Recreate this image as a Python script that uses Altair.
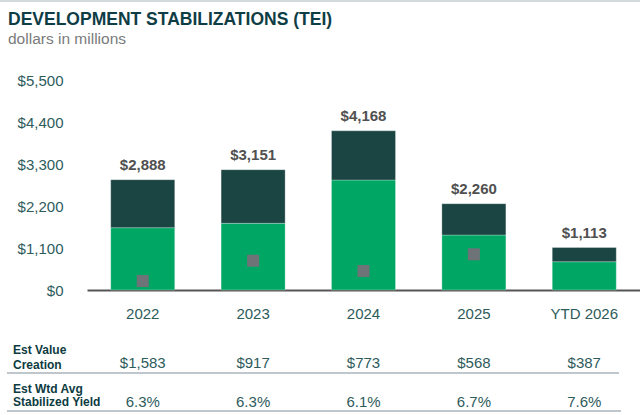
import altair as alt
import pandas as pd

# Development stabilizations, dollars in millions
periods = ["2022", "2023", "2024", "2025", "YTD 2026"]
totals = [2888, 3151, 4168, 2260, 1113]
lower_part = [1632, 1747, 2881, 1440, 741]
marker_periods = ["2022", "2023", "2024", "2025"]
marker_values = [236, 767, 498, 935]
value_creation = [1583, 917, 773, 568, 387]
stabilized_yield = [0.063, 0.063, 0.061, 0.067, 0.076]
row_labels_top = ["Est Value\nCreation"]
row_labels_bottom = ["Est Wtd Avg\nStabilized Yield"]
y_ticks = [0, 1100, 2200, 3300, 4400, 5500]

FONT = "Liberation Sans"
TEAL_TEXT = "#2e5b5c"
LIGHT_GREEN = "#00a664"
DARK_GREEN = "#1b4543"

df = pd.DataFrame({
    "period": periods,
    "total": totals,
    "lower": lower_part,
    "value_creation": value_creation,
    "yield": stabilized_yield,
})
markers_df = pd.DataFrame({"period": marker_periods, "marker": marker_values})
one = pd.DataFrame({"k": [0]})

x_scale = alt.Scale(paddingInner=0.42, paddingOuter=0.215)
y_scale = alt.Scale(domain=[0, 5500], nice=False)

x_axis = alt.Axis(
    title=None, labelAngle=0, ticks=False, domain=True, domainColor="#555555",
    domainWidth=2, labelFont=FONT, labelFontSize=15, labelColor=TEAL_TEXT,
    labelPadding=16,
)
y_axis = alt.Axis(
    title=None, values=y_ticks, format="$,.0f", ticks=False, domain=False,
    grid=False, labelFont=FONT, labelFontSize=15, labelColor=TEAL_TEXT,
    labelPadding=24,
)


def X():
    return alt.X("period:N", sort=periods, scale=x_scale, axis=x_axis)


def Y(field):
    return alt.Y(field, scale=y_scale, axis=y_axis, title=None)


base = alt.Chart(df)

lower_bars = base.mark_bar(
    color=LIGHT_GREEN, stroke="#ffffff", strokeOpacity=0.35, strokeWidth=0.8
).encode(x=X(), y=Y("lower:Q"))

upper_bars = base.mark_bar(
    color=DARK_GREEN, stroke="#ffffff", strokeOpacity=0.35, strokeWidth=0.8
).encode(x=X(), y=Y("lower:Q"), y2="total:Q")

total_labels = base.mark_text(
    dy=-10, baseline="alphabetic", font=FONT, fontSize=15, fontWeight="bold",
    color="#505050",
).encode(x=X(), y=Y("total:Q"), text=alt.Text("total:Q", format="$,.0f"))

squares = alt.Chart(markers_df).mark_square(
    size=144, color="#6e7378", opacity=1
).encode(x=X(), y=Y("marker:Q"))

# Header rule across the top of the figure
top_rule = alt.Chart(one).mark_rule(color="#d3dadc", strokeWidth=2).encode(
    x=alt.value(-87), x2=alt.value(553), y=alt.value(-79)
)

# Table underneath the bars
value_row = base.mark_text(
    baseline="middle", font=FONT, fontSize=15, color=TEAL_TEXT
).encode(x=X(), y=alt.value(283), text=alt.Text("value_creation:Q", format="$,.0f"))

yield_row = base.mark_text(
    baseline="middle", font=FONT, fontSize=15, color=TEAL_TEXT
).encode(x=X(), y=alt.value(321.5), text=alt.Text("yield:Q", format=".1%"))

label_top = alt.Chart(pd.DataFrame({"label": row_labels_top})).mark_text(
    align="left", baseline="middle", lineBreak="\n", lineHeight=15,
    font=FONT, fontSize=12, fontWeight="bold", color="#0d3b3f",
).encode(x=alt.value(-74), y=alt.value(269.5), text="label:N")

label_bottom = alt.Chart(pd.DataFrame({"label": row_labels_bottom})).mark_text(
    align="left", baseline="middle", lineBreak="\n", lineHeight=13,
    font=FONT, fontSize=12, fontWeight="bold", color="#0d3b3f",
).encode(x=alt.value(-74), y=alt.value(308.5), text="label:N")

rule_a = alt.Chart(one).mark_rule(color="#aab5bc", strokeWidth=1.5).encode(
    x=alt.value(-80), x2=alt.value(532), y=alt.value(293)
)
rule_b = alt.Chart(one).mark_rule(color="#aab5bc", strokeWidth=1.5).encode(
    x=alt.value(-80), x2=alt.value(534), y=alt.value(331)
)

chart = alt.layer(
    top_rule, lower_bars, upper_bars, squares, total_labels,
    value_row, yield_row, label_top, label_bottom, rule_a, rule_b,
).properties(
    width=553,
    height=210,
    title=alt.TitleParams(
        text="DEVELOPMENT STABILIZATIONS (TEI)",
        subtitle="dollars in millions",
        anchor="start",
        frame="group",
        dx=-79,
        dy=47,
        offset=0,
        font=FONT,
        fontSize=17.5,
        fontWeight="bold",
        color="#0f3d45",
        subtitleFont=FONT,
        subtitleFontSize=15.5,
        subtitleColor="#7a7a7a",
        subtitlePadding=3,
    ),
    autosize=alt.AutoSizeParams(type="none"),
    padding={"left": 87, "top": 80, "right": 0, "bottom": 125},
    background="white",
).configure_view(stroke=None)

chart.save("out.html", embed_options={"renderer": "svg", "actions": False})
